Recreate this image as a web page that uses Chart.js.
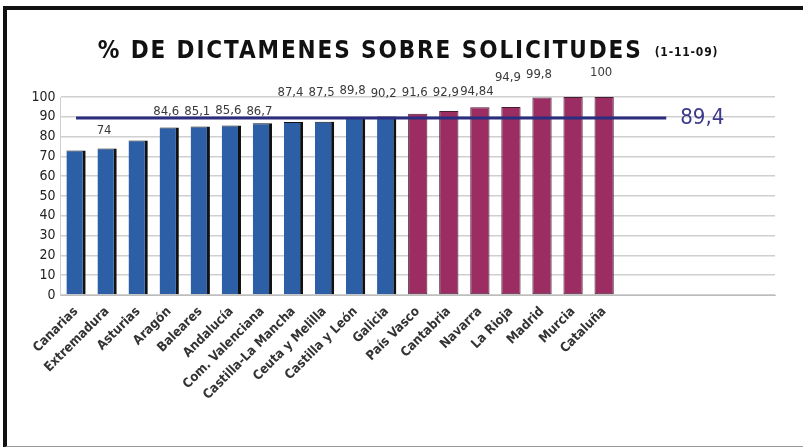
<!DOCTYPE html>
<html>
<head>
<meta charset="utf-8">
<script src="https://cdn.jsdelivr.net/npm/chart.js@4"></script>
<style>
  html, body { margin: 0; padding: 0; background: #fff; }
  #frame {
    position: absolute; left: 3px; top: 6px; width: 820px; height: 436px;
    border-left: 4px solid #111; border-top: 4px solid #111; border-bottom: 2px solid #999;
  }
  #wrap { position: absolute; left: 0; top: 0; width: 803px; height: 447px; }
</style>
</head>
<body>
<div id="frame"></div>
<div id="wrap"><canvas id="chart" width="803" height="447"></canvas></div>
<script>
// comunidades, ordenadas de menor a mayor
var regions = ["Canarias", "Extremadura", "Asturias", "Aragón", "Baleares", "Andalucía",
  "Com. Valenciana", "Castilla-La Mancha", "Ceuta y Melilla", "Castilla y León", "Galicia",
  "País Vasco", "Cantabria", "Navarra", "La Rioja", "Madrid", "Murcia", "Cataluña"];
var percent = [73, 74, 78, 84.6, 85.1, 85.6, 86.7, 87.4, 87.5, 89.8, 90.2,
  91.6, 92.9, 94.84, 94.9, 99.8, 100, 100];
var valueLabels = [null, "74", null, "84,6", "85,1", "85,6", "86,7", "87,4", "87,5", "89,8", "90,2",
  "91,6", "92,9", "94,84", "94,9", "99,8", null, "100"];
var meanLabel = "89,4";
// linea de la media: del primer hueco al hueco 19 (span over the gaps)
var meanLine = [89.4, null, null, null, null, null, null, null, null, null,
  null, null, null, null, null, null, null, null, null, 89.4];
var yTicks = [0, 10, 20, 30, 40, 50, 60, 70, 80, 90, 100];
var titleMain = "% DE DICTAMENES SOBRE SOLICITUDES";
var titleDate = "(1-11-09)";

// huecos vacios a la derecha del grafico
var emptySlots = ["", "", "", "", ""];
var axisLabels = regions.concat(emptySlots);

var BLUE = "#2d5fa7";
var PURPLE = "#9b2d63";
var blueCount = 11;
// elevacion de cada etiqueta (colocadas a mano en el original)
var labelLift = [18, 18, 18, 16, 15, 15, 12, 29, 29, 27, 23, 21, 18, 16, 29, 23, 24, 24];

var narrow = '"Liberation Sans Narrow", "DejaVu Sans Condensed", sans-serif';
var cond = '"DejaVu Sans Condensed", "Liberation Sans Narrow", sans-serif';

var overlay = {
  id: 'overlay',
  afterDraw: function (chart) {
    var ctx = chart.ctx;
    var meta = chart.getDatasetMeta(0);
    ctx.save();

    // titulo
    ctx.fillStyle = "#111";
    ctx.textBaseline = "alphabetic";
    ctx.textAlign = "left";
    ctx.font = 'bold 24px ' + cond;
    ctx.letterSpacing = "1.9px";
    var w1 = ctx.measureText(titleMain).width;
    ctx.font = 'bold 12px ' + cond;
    ctx.letterSpacing = "0.8px";
    var w2 = ctx.measureText(titleDate).width;
    var x0 = 408 - (w1 + 12 + w2) / 2;
    ctx.font = 'bold 24px ' + cond;
    ctx.letterSpacing = "1.9px";
    ctx.fillText(titleMain, x0, 58);
    ctx.font = 'bold 12px ' + cond;
    ctx.letterSpacing = "0.8px";
    ctx.fillText(titleDate, x0 + w1 + 12, 56);
    ctx.letterSpacing = "0px";

    // etiquetas de valor
    ctx.font = '13px ' + narrow;
    ctx.fillStyle = "#3a3a3a";
    ctx.textAlign = "center";
    ctx.textBaseline = "middle";
    meta.data.forEach(function (bar, i) {
      if (!valueLabels[i]) return;
      ctx.fillText(valueLabels[i], bar.x - 3, bar.y - labelLift[i]);
    });

    // etiqueta de la media
    var lineMeta = chart.getDatasetMeta(1);
    var last = lineMeta.data[lineMeta.data.length - 1];
    ctx.font = '22px ' + narrow;
    ctx.fillStyle = "#3c3a8c";
    ctx.textAlign = "left";
    ctx.fillText(meanLabel, last.x + 14, last.y);
    ctx.restore();
  }
};

new Chart(document.getElementById('chart').getContext('2d'), {
  type: 'bar',
  data: {
    labels: axisLabels,
    datasets: [{
      type: 'bar',
      data: percent,
      backgroundColor: function (c) { return c.dataIndex < blueCount ? BLUE : PURPLE; },
      borderColor: function (c) { return c.dataIndex < blueCount ? "#111" : "#4a1d36"; },
      borderWidth: function (c) {
        return c.dataIndex < blueCount ? { top: 1, right: 3, left: 0, bottom: 0 } : 1;
      },
      borderSkipped: false,
      barPercentage: 0.62,
      categoryPercentage: 1,
      order: 2
    }, {
      type: 'line',
      data: meanLine,
      spanGaps: true,
      borderColor: "#2b2d7e",
      borderWidth: 3,
      pointRadius: 0,
      fill: false,
      order: 1
    }]
  },
  options: {
    responsive: false,
    animation: false,
    events: [],
    layout: { padding: { left: 10.5, right: 28, top: 97, bottom: 12 } },
    plugins: { legend: { display: false }, tooltip: { enabled: false }, title: { display: false } },
    scales: {
      x: {
        grid: { display: false, drawTicks: false },
        border: { color: "#bdbdbd", width: 1 },
        afterFit: function (s) { s.height = 140; },
        ticks: {
          autoSkip: false,
          maxRotation: 45,
          minRotation: 45,
          padding: 9,
          color: "#333",
          font: { family: cond, size: 13, weight: 'bold' }
        }
      },
      y: {
        min: 0,
        max: 100,
        afterFit: function (s) { s.width = 50; },
        afterBuildTicks: function (s) { s.ticks = yTicks.map(function (v) { return { value: v }; }); },
        grid: { color: "#cfcfcf", lineWidth: 1.5, drawTicks: false },
        border: { color: "#cfcfcf", width: 1 },
        ticks: {
          padding: 5,
          color: "#222",
          font: { family: narrow, size: 14 }
        }
      }
    }
  },
  plugins: [overlay]
});
</script>
</body>
</html>
